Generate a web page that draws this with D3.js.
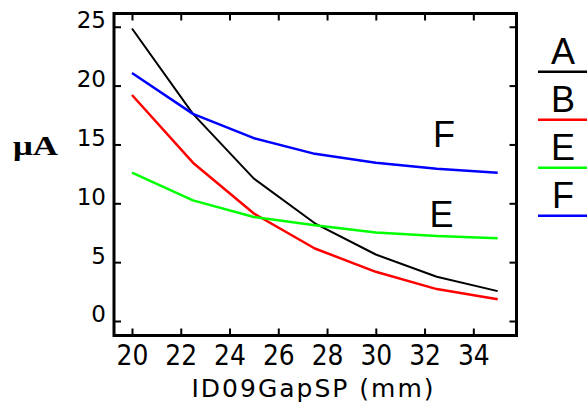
<!DOCTYPE html>
<html>
<head>
<meta charset="utf-8">
<script src="https://cdn.jsdelivr.net/npm/d3@7"></script>
<style>
  body { margin: 0; background: #fff; }
  text { font-family: "DejaVu Sans", sans-serif; fill: #000; }
</style>
</head>
<body>
<div id="chart"></div>
<script>
// Data
var gap = [20, 22.5, 25, 27.5, 30, 32.5, 35];
var serA = [24.85, 17.6, 12.1, 8.3, 5.65, 3.76, 2.54];
var serB = [19.2, 13.45, 9.13, 6.16, 4.18, 2.71, 1.84];
var serE = [12.6, 10.25, 8.84, 8.14, 7.51, 7.23, 7.03];
var serF = [21.07, 17.6, 15.53, 14.2, 13.45, 12.94, 12.6];
var names = ["A", "B", "E", "F"];
var colors = ["#000000", "#ff0000", "#00ff00", "#0000ff"];
var xTicks = [20, 22, 24, 26, 28, 30, 32, 34];
var yTicks = [0, 5, 10, 15, 20, 25];
var notes = [{label: "F", x: 32.35, y: 14.78}, {label: "E", x: 32.2, y: 7.99}];

var W = 587, H = 406;
var L = 114, R = 516.5, T = 13.5, B = 335.5;

var svg = d3.select("#chart").append("svg")
	.attr("width", W).attr("height", H);

var x = d3.scaleLinear().domain([19.262, 35.771]).range([L, R]);
var y = d3.scaleLinear().domain([-1.232, 26.125]).range([B, T]);

var series = [serA, serB, serE, serF];

// lines
var line = d3.line()
	.x(function(d, i){ return x(gap[i]); })
	.y(function(d){ return y(d); });

series.forEach(function(s, k){
	svg.append("path").datum(s).attr("d", line)
		.style("fill", "none").style("stroke", colors[k])
		.style("stroke-width", k == 0 ? 2 : 2.5)
		.style("stroke-linejoin", "round");
});

// frame
svg.append("rect").attr("x", L).attr("y", T).attr("width", R - L).attr("height", B - T)
	.style("fill", "none").style("stroke", "#000").style("stroke-width", 3);

// axes (ticks inward)
var bottomAx = svg.append("g").attr("transform", "translate(0," + B + ")")
	.call(d3.axisBottom(x).tickValues(xTicks).tickSize(-7).tickPadding(13).tickFormat(d3.format("d")));
var topAx = svg.append("g").attr("transform", "translate(0," + T + ")")
	.call(d3.axisTop(x).tickValues(xTicks).tickSize(-7).tickFormat(""));
var leftAx = svg.append("g").attr("transform", "translate(" + L + ",0)")
	.call(d3.axisLeft(y).tickValues(yTicks).tickSize(-7).tickPadding(8).tickFormat(d3.format("d")));
var rightAx = svg.append("g").attr("transform", "translate(" + R + ",0)")
	.call(d3.axisRight(y).tickValues(yTicks).tickSize(-7).tickFormat(""));

[bottomAx, topAx, leftAx, rightAx].forEach(function(g){
	g.select(".domain").remove();
	g.selectAll(".tick line").style("stroke", "#000").style("stroke-width", 2);
});

bottomAx.selectAll(".tick text")
	.attr("y", 0).attr("dy", 0)
	.attr("transform", "translate(0,29) scale(1,1.12)")
	.style("font-size", "25px").style("fill", "#000");
leftAx.selectAll(".tick text")
	.attr("dy", "1px").attr("dominant-baseline", "auto")
	.style("font-size", "23px").style("fill", "#000");

// axis titles
svg.append("text").attr("x", 312.5).attr("y", 396.5)
	.attr("text-anchor", "middle")
	.attr("textLength", 242).attr("lengthAdjust", "spacing")
	.style("font-size", "25px")
	.text("ID09GapSP (mm)");

svg.append("text").attr("x", 13).attr("y", 155)
	.attr("textLength", 45).attr("lengthAdjust", "spacingAndGlyphs")
	.style("font-family", "'Liberation Serif', serif").style("font-weight", "bold")
	.style("font-size", "28px")
	.text("\u03bcA");

// annotations inside the plot
svg.selectAll(".note").data(notes).enter().append("text")
	.attr("class", "note")
	.attr("x", function(d){ return x(d.x); })
	.attr("y", function(d){ return y(d.y); })
	.style("font-family", "'Liberation Sans', Arial, sans-serif")
	.style("font-size", "36px")
	.text(function(d){ return d.label; });

// legend
var lg = svg.selectAll(".leg").data(names).enter().append("g").attr("class", "leg")
	.attr("transform", function(d, i){ return "translate(0," + (71.7 + i * 48) + ")"; });
lg.append("line").attr("x1", 538).attr("x2", 587).attr("y1", 0).attr("y2", 0)
	.style("stroke", function(d, i){ return colors[i]; }).style("stroke-width", 2.5);
lg.append("text").attr("x", 563).attr("y", -7.5).attr("text-anchor", "middle")
	.style("font-family", "'Liberation Sans', Arial, sans-serif")
	.style("font-size", "36px")
	.text(function(d){ return d; });
</script>
</body>
</html>
